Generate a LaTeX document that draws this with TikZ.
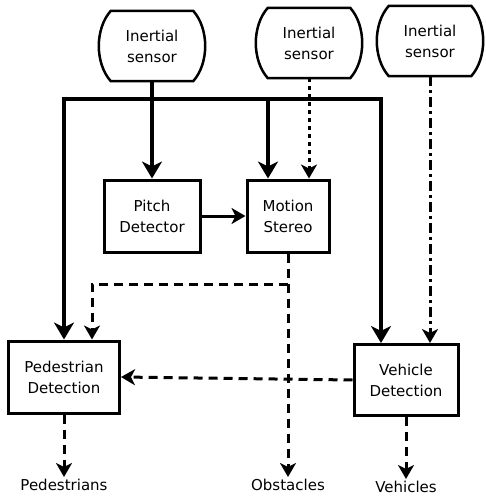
\documentclass[tikz,border=0pt]{standalone}
\usepackage{fontspec}
\setmainfont{DejaVu Sans}
\usetikzlibrary{arrows.meta}

\begin{document}
\begin{tikzpicture}[x=1pt,y=-1pt,
  font=\fontsize{15}{21}\selectfont,
  block/.style={draw,line width=3pt,align=center,inner sep=0pt},
  sensor/.style={align=center,inner sep=0pt,minimum width=82pt,minimum height=70pt},
  bus/.style={line width=4.3pt,>={Stealth[length=17pt,width=20pt,inset=5pt]}},
  flow/.style={line width=3pt,->,>={Stealth[length=14pt,width=16pt,inset=4pt]}},
  dashflow/.style={flow,dash pattern=on 9pt off 6pt},
  dotflow/.style={flow,dash pattern=on 4pt off 4pt},
  dashdotflow/.style={flow,dash pattern=on 10pt off 4pt on 3pt off 4pt},
  outlabel/.style={inner sep=2pt}]
  \useasboundingbox (0,0) rectangle (485,498);

  %% sensors
  \node[sensor] (ins1) at (152,46) {Inertial\\sensor};
  \node[sensor] (ins2) at (309,43) {Inertial\\sensor};
  \node[sensor] (ins3) at (430,41) {Inertial\\sensor};
  \foreach \s in {ins1,ins2,ins3}
    \draw[line width=2.5pt] (\s.north west) -- (\s.north east)
      .. controls ([xshift=16pt,yshift=-18pt]\s.north east) and ([xshift=16pt,yshift=18pt]\s.south east) .. (\s.south east)
      -- (\s.south west)
      .. controls ([xshift=-16pt,yshift=18pt]\s.south west) and ([xshift=-16pt,yshift=-18pt]\s.north west) .. cycle;

  %% processing blocks
  \node[block,minimum width=96pt,minimum height=72pt] (pitch) at (152,216) {Pitch\\Detector};
  \node[block,minimum width=82pt,minimum height=72pt] (motion) at (288,216) {Motion\\Stereo};
  \node[block,minimum width=111pt,minimum height=72pt] (ped) at (64,377) {Pedestrian\\Detection};
  \node[block,minimum width=104pt,minimum height=71pt] (veh) at (406,380) {Vehicle\\Detection};

  %% outputs
  \node[outlabel] (pedout) at (64,485) {Pedestrians};
  \node[outlabel] (obsout) at (288,485) {Obstacles};
  \node[outlabel] (vehout) at (406,487) {Vehicles};

  \coordinate (busr) at (381,99);
  \coordinate (busm) at (268,99);
  \coordinate (split) at (288,284);

  \draw[bus,->] (ins1.south) -- (pitch.north); %% sensor 1 -> pitch
  \draw[bus,<->] (ped.north) |- (busr) -- (busr |- veh.north); %% bus
  \draw[bus,->] (busm) -- (busm |- motion.north); %% bus -> motion

  \draw[flow] (pitch) -- (motion);
  \draw[dotflow] (ins2.south) -- (ins2.south |- motion.north);
  \draw[dashdotflow] (ins3.south) -- (ins3.south |- veh.north);

  \draw[dashflow] (motion.south) -- (obsout.north);
  \draw[dashflow] (split) -| ([xshift=28pt]ped.north);
  \draw[dashflow] (veh.west) -- (ped.east);
  \draw[dashflow] (ped.south) -- (pedout.north);
  \draw[dashflow] (veh.south) -- (vehout.north);
\end{tikzpicture}
\end{document}
